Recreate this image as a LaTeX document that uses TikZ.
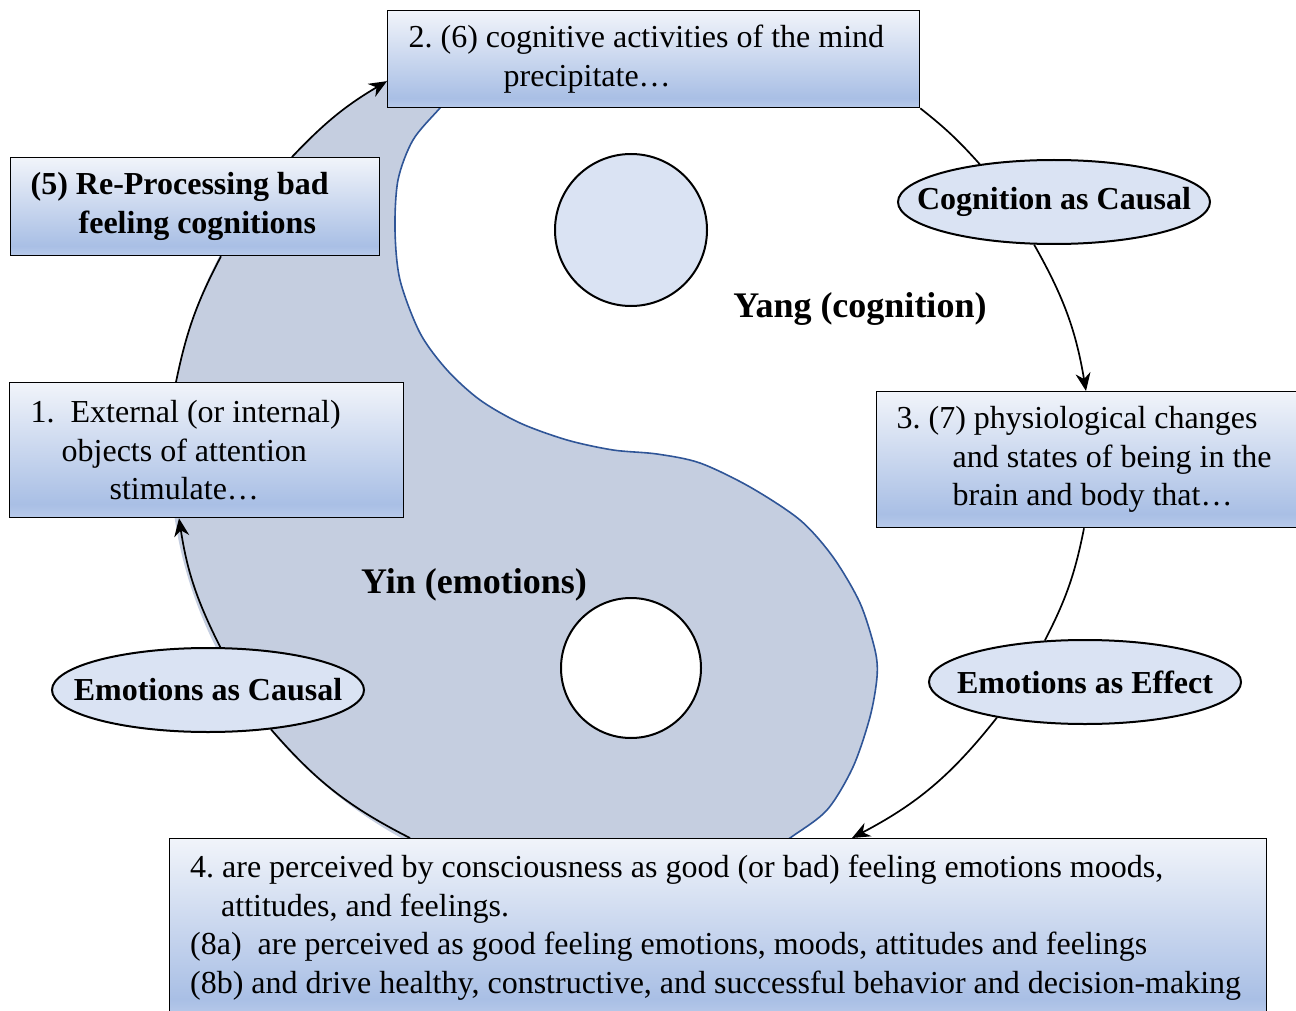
\documentclass[tikz,border=0pt]{standalone}
\usepackage{fontspec}
\setmainfont{Liberation Serif}
\usepackage{tikz}
\usetikzlibrary{positioning,arrows.meta,shapes.geometric}
\definecolor{yinazul}{HTML}{C5CEE0}
\definecolor{curva}{HTML}{2F5597}
\definecolor{claro}{HTML}{DAE3F3}
\definecolor{gradarriba}{HTML}{F1F4FA}
\definecolor{gradmedio}{HTML}{A9BFE5}
\definecolor{gradabajo}{HTML}{B8CAEA}
\pgfdeclareverticalshading{cajagrad}{100bp}{color(0bp)=(gradabajo); color(25bp)=(gradabajo); color(30bp)=(gradmedio); color(75bp)=(gradarriba); color(100bp)=(gradarriba)}
\frenchspacing

\begin{document}
\begin{tikzpicture}[
  x=1pt, y=-1pt,
  caja/.style={rectangle, draw=black, line width=1.3pt, shade, shading=cajagrad, anchor=north west, inner sep=0pt, align=flush left, font=\fontsize{32}{38.5}\selectfont},
  ovalo/.style={ellipse, draw=black, line width=2pt, fill=claro, inner xsep=-30pt, inner ysep=0pt, minimum width=312pt, minimum height=84pt, font=\bfseries\fontsize{32}{38}\selectfont},
  rotulo/.style={font=\bfseries\fontsize{36}{40}\selectfont, inner sep=0pt},
  arco/.style={draw=black, line width=1.7pt},
  flecha/.style={-{Stealth[length=18pt,width=15pt]}, draw=black, line width=1.7pt}
]
\useasboundingbox (0,0) rectangle (1296,1011);
\fill[yinazul] plot[smooth] coordinates {(632,13) (530,40) (470,75) (440,108) (413,140) (398,180) (395,230) (400,280) (420,333) (447,370) (480,400) (520,423) (567,440) (613,450) (657,454) (700,463) (750,487) (800,520) (833,557) (860,603) (875,650) (877,677) (870,717) (853,767) (827,810) (790,838) (740,872) (690,890) (632,897)} arc[start angle=90, end angle=270, x radius=462, y radius=442] -- cycle;
\draw[curva, line width=1.6pt] plot[smooth] coordinates {(632,13) (530,40) (470,75) (440,108) (413,140) (398,180) (395,230) (400,280) (420,333) (447,370) (480,400) (520,423) (567,440) (613,450) (657,454) (700,463) (750,487) (800,520) (833,557) (860,603) (875,650) (877,677) (870,717) (853,767) (827,810) (790,838) (740,872) (690,890) (632,897)};
\draw[line width=2pt, fill=claro] (631,230) circle[radius=76];
\draw[line width=2pt, fill=white] (631,668) circle[radius=70];
\node[rotulo] (yang) at (860,309) {Yang (cognition)};
\node[rotulo] (yin) at (474,585) {Yin (emotions)};
\node[caja, minimum width=532pt, minimum height=97pt, text width=490pt] (cognicion) at (387,10) {2. (6) cognitive activities of the mind\\ \hspace*{95pt}precipitate…};
\node[caja, minimum width=369pt, minimum height=98pt, text width=329pt, font=\bfseries\fontsize{32}{38.5}\selectfont] (reproceso) at (10,157) {(5) Re-Processing bad\\ \hspace*{48pt}feeling cognitions};
\node[caja, minimum width=394pt, minimum height=135pt, text width=352pt] (estimulo) at (9,382) {1.\ \ External (or internal)\\ \hspace*{31pt}objects of attention\\ \hspace*{79pt}stimulate…};
\node[caja, minimum width=440pt, minimum height=136pt, text width=400pt] (fisiologia) at (876,391) {3. (7) physiological changes\\ \hspace*{56pt}and states of being in the\\ \hspace*{56pt}brain and body that…};
\node[caja, minimum width=1097pt, minimum height=178pt, text width=1056pt] (percepcion) at (169,838) {4. are perceived by consciousness as good (or bad) feeling emotions moods,\\ \hspace*{31pt}attitudes, and feelings.\\ (8a)\ \ are perceived as good feeling emotions, moods, attitudes and feelings\\ \mbox{(8b) and drive healthy, constructive, and successful behavior and decision-making}};
\node[ovalo] (cogcausal) at (1054,202) {Cognition as Causal};
\node[ovalo] (emoefecto) at (1085,682) {Emotions as Effect};
\node[ovalo] (emocausal) at (208,690) {Emotions as Causal};
\draw[arco] ([xshift=241pt]percepcion.north west) to[bend left=11] (emocausal.328);
\draw[flecha] (emocausal.74) to[bend left=9] ([xshift=170pt]estimulo.south west);
\draw[arco] ([xshift=167pt]estimulo.north west) to[bend left=8] ([xshift=211pt]reproceso.south west);
\draw[flecha] ([xshift=282pt]reproceso.north west) to[bend left=8] ([yshift=-22pt]cognicion.west);
\draw[arco] (cognicion.south east) to[bend left=5] (cogcausal.153);
\draw[flecha] (cogcausal.245) to[bend left=10] ([xshift=210pt]fisiologia.north west);
\draw[arco] ([xshift=208pt]fisiologia.south west) to[bend left=8] (emoefecto.134);
\draw[flecha] (emoefecto.202) to[bend left=12] ([xshift=683pt]percepcion.north west);
\end{tikzpicture}
\end{document}
